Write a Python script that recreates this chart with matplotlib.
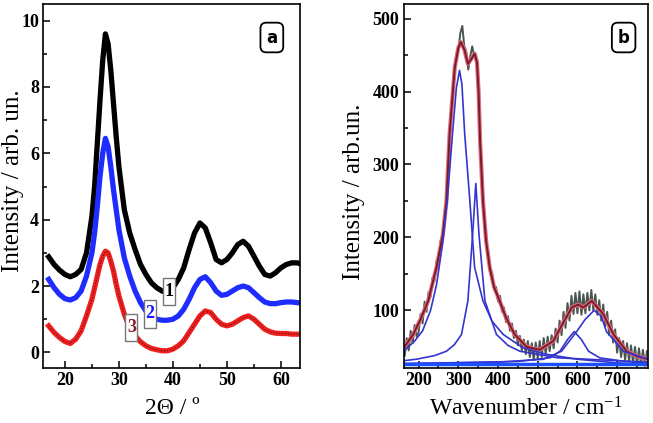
import matplotlib
matplotlib.use("Agg")
import matplotlib.pyplot as plt
from matplotlib.patches import Rectangle
from matplotlib.ticker import MultipleLocator

plt.rcParams['font.family'] = ['Liberation Serif', 'DejaVu Serif']
plt.rcParams['mathtext.default'] = 'regular'

# panel a: XRD patterns
two_theta = [17, 18, 19, 20, 21, 22, 23, 24, 25, 25.5, 26, 26.5, 27, 27.5, 28, 28.5, 29, 29.5, 30,
             31, 32, 33, 34, 35, 36, 37, 38, 39, 40, 41, 42, 43, 44, 45, 46, 47, 48, 49, 50,
             51, 52, 53, 54, 55, 56, 57, 58, 59, 60, 61, 62, 63, 64]
xrd_1 = [2.88, 2.65, 2.48, 2.35, 2.28, 2.35, 2.5, 3.0, 4.1, 5.0, 6.3, 7.6, 8.8, 9.6, 9.3, 8.5, 7.5, 6.5, 5.6,
         4.3, 3.6, 3.1, 2.65, 2.35, 2.1, 1.95, 1.85, 1.8, 1.95, 2.2, 2.55, 3.1, 3.6, 3.9, 3.75, 3.3, 2.8, 2.7, 2.8,
         3.0, 3.25, 3.35, 3.2, 2.9, 2.6, 2.35, 2.3, 2.4, 2.55, 2.65, 2.7, 2.7, 2.65]
xrd_2 = [2.2, 1.95, 1.75, 1.62, 1.58, 1.65, 1.85, 2.3, 3.0, 3.6, 4.4, 5.3, 6.0, 6.45, 6.2, 5.6, 4.9, 4.3, 3.7,
         2.85, 2.3, 1.85, 1.5, 1.25, 1.08, 1.0, 0.97, 0.97, 1.0, 1.1, 1.3, 1.6, 1.95, 2.2, 2.28, 2.1, 1.85, 1.72, 1.75,
         1.85, 1.95, 2.0, 1.95, 1.8, 1.65, 1.52, 1.47, 1.47, 1.5, 1.52, 1.52, 1.5, 1.48]
xrd_3 = [0.8, 0.6, 0.45, 0.33, 0.27, 0.4, 0.65, 1.1, 1.6, 1.95, 2.3, 2.65, 2.9, 3.05, 3.0, 2.75, 2.45, 2.05, 1.7,
         1.15, 0.75, 0.5, 0.32, 0.2, 0.12, 0.08, 0.05, 0.05, 0.1, 0.2, 0.35, 0.6, 0.85, 1.1, 1.25, 1.2, 1.0, 0.85, 0.8,
         0.85, 0.95, 1.05, 1.1, 1.0, 0.85, 0.7, 0.62, 0.58, 0.57, 0.57, 0.55, 0.55, 0.55]
curve_labels = ['1', '2', '3']
label_pos = [(39.3, 1.83), (35.7, 1.16), (32.3, 0.75)]
label_colors = ['black', '#1a1aff', '#8b1a2a']

# panel b: Raman spectrum and fit
raman_wn = list(range(165, 780, 5))
raman_data = [38, 62, 45, 72, 55, 80, 64, 70, 95, 82, 112, 98, 125, 118, 145, 140, 168, 165, 195, 198,
              232, 248, 312, 352, 400, 425, 452, 458, 480, 490, 462, 455, 430, 448, 462, 448, 450, 415, 340, 270,
              238, 190, 182, 150, 152, 128, 132, 112, 120, 98, 104, 84, 92, 72, 82, 62, 72, 52, 65, 45,
              60, 40, 58, 36, 55, 32, 56, 34, 58, 36, 62, 40, 64, 44, 66, 48, 75, 56, 86, 66,
              98, 76, 110, 86, 120, 95, 124, 96, 126, 94, 122, 96, 124, 100, 128, 100, 122, 94, 114, 86,
              108, 78, 98, 66, 86, 56, 74, 42, 62, 36, 58, 32, 55, 30, 52, 28, 50, 26, 48, 25,
              46, 24, 44]
fit_wn = [162, 186, 205, 224, 245, 261, 270, 278, 291, 300, 306, 315, 324, 333, 341, 347, 351, 355, 362, 370,
          379, 390, 404, 420, 442, 472, 505, 539, 564, 586, 602, 615, 636, 665, 691, 724, 750, 778]
fit_sum = [48, 67, 88, 113, 159, 204, 250, 342, 433, 460, 468, 458, 438, 445, 452, 440, 400, 330, 250, 195,
           159, 132, 113, 90, 67, 50, 46, 58, 83, 104, 108, 104, 113, 95, 67, 44, 37, 33]
c1_wn = [162, 190, 210, 230, 245, 260, 272, 285, 295, 303, 309, 316, 329, 341, 362, 385, 413, 462, 520, 600, 700, 778]
c1_int = [44, 58, 72, 100, 135, 190, 250, 340, 405, 429, 410, 342, 250, 159, 113, 85, 67, 49, 40, 33, 28, 26]
c2_wn = [162, 194, 240, 270, 290, 308, 324, 336, 344, 352, 367, 396, 425, 455, 550, 778]
c2_int = [31, 33, 38, 44, 53, 67, 113, 204, 274, 204, 113, 67, 52, 44, 35, 29]
c3_wn = [162, 450, 531, 556, 575, 592, 610, 628, 656, 720, 778]
c3_int = [27, 30, 35, 44, 60, 71, 60, 44, 35, 30, 28]
c4_wn = [162, 400, 514, 560, 598, 620, 642, 660, 673, 716, 766, 778]
c4_int = [27, 29, 33, 44, 71, 88, 100, 92, 71, 44, 35, 34]
base_wn = [162, 778]
base_int = [27, 27]

fig = plt.figure(figsize=(6.53, 4.23), dpi=100)
ax1 = fig.add_axes([0.0663, 0.130, 0.3937, 0.8605])
ax2 = fig.add_axes([0.618, 0.130, 0.3745, 0.8605])

ax1.plot(two_theta, xrd_1, color='black', lw=3.8)
ax1.plot(two_theta, xrd_2, color='#1f2cff', lw=3.8)
ax1.plot(two_theta, xrd_3, color='#f02020', lw=3.8)
ax1.plot(two_theta, xrd_3, color='#5a1010', lw=0.8, ls=':')
for txt, (lx, ly), col in zip(curve_labels, label_pos, label_colors):
    ax1.add_patch(Rectangle((lx - 1.1, ly - 0.41), 2.2, 0.82, fc='white', ec='#777777', lw=1, zorder=4))
    ax1.text(lx, ly, txt, color=col, fontsize=13, fontweight='bold', ha='center', va='center', zorder=5)
ax1.set_xlim(16, 63.6)
ax1.set_ylim(-0.47, 10.5)
ax1.xaxis.set_major_locator(MultipleLocator(10))
ax1.xaxis.set_minor_locator(MultipleLocator(5))
ax1.yaxis.set_major_locator(MultipleLocator(2))
ax1.yaxis.set_minor_locator(MultipleLocator(1))
ax1.set_xlabel('2Θ / º', fontsize=17, labelpad=6)
ax1.set_ylabel('Intensity / arb. un.', fontsize=18)
ax1.yaxis.set_label_coords(-0.075, 0.515)
ax1.text(0.889, 0.908, 'a', transform=ax1.transAxes, family='DejaVu Sans', fontsize=12,
         fontweight='bold', ha='center', va='center',
         bbox=dict(boxstyle='round,pad=0.35', fc='white', ec='black', lw=1.3))

ax2.plot(raman_wn, raman_data, color='#4a5550', lw=1.4)
ax2.plot(fit_wn, fit_sum, color='#e07080', lw=3)
ax2.plot(fit_wn, fit_sum, color='#7a1a2a', lw=1.4)
for wn, val in [(c1_wn, c1_int), (c2_wn, c2_int), (c3_wn, c3_int), (c4_wn, c4_int)]:
    ax2.plot(wn, val, color='#3434d0', lw=1.2)
ax2.plot(base_wn, base_int, color='#1a50ff', lw=2.5)
ax2.set_xlim(162, 778)
ax2.set_ylim(21, 520)
ax2.xaxis.set_major_locator(MultipleLocator(100))
ax2.xaxis.set_minor_locator(MultipleLocator(50))
ax2.yaxis.set_major_locator(MultipleLocator(100))
ax2.yaxis.set_minor_locator(MultipleLocator(50))
ax2.set_xlabel('Wavenumber / cm$^{-1}$', fontsize=17, labelpad=6)
ax2.set_ylabel('Intensity / arb.un.', fontsize=18)
ax2.yaxis.set_label_coords(-0.157, 0.485)
ax2.text(0.90, 0.908, 'b', transform=ax2.transAxes, family='DejaVu Sans', fontsize=12,
         fontweight='bold', ha='center', va='center',
         bbox=dict(boxstyle='round,pad=0.35', fc='white', ec='black', lw=1.3))

for ax in (ax1, ax2):
    for s in ax.spines.values():
        s.set_linewidth(1.2)
    ax.tick_params(which='both', direction='in', top=False, right=False, width=1.1)
    ax.tick_params(which='major', length=5, labelsize=13, pad=3)
    ax.tick_params(which='minor', length=3)
    for lab in ax.get_xticklabels() + ax.get_yticklabels():
        lab.set_fontweight('bold')

fig.savefig('out.png', dpi=100)
